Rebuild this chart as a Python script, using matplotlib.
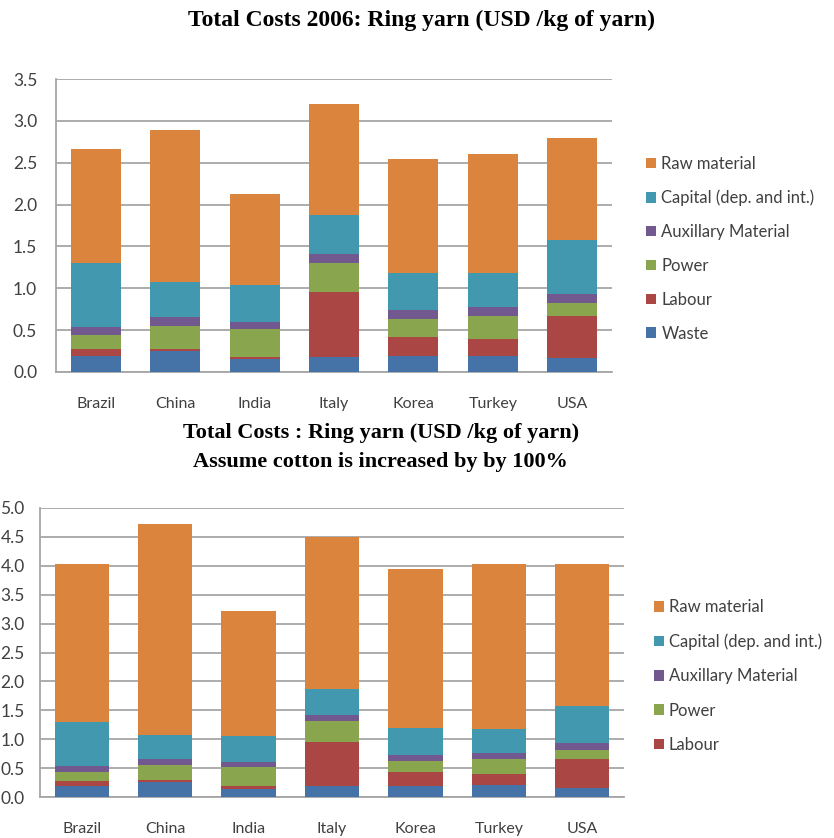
import matplotlib
matplotlib.use("Agg")
import matplotlib.pyplot as plt
import numpy as np

COUNTRIES = ["Brazil", "China", "India", "Italy", "Korea", "Turkey", "USA"]
COMPONENTS = ["Waste", "Labour", "Power", "Auxillary Material",
              "Capital (dep. and int.)", "Raw material"]
COLORS = ["#4572A7", "#AA4643", "#89A54E", "#71588F", "#4198AF", "#DB843D"]

# 2006 cost breakdown, USD per kg of yarn
waste_2006 = [0.19, 0.25, 0.15, 0.175, 0.19, 0.19, 0.17]
labour_2006 = [0.09, 0.03, 0.025, 0.785, 0.23, 0.20, 0.50]
power_2006 = [0.16, 0.27, 0.335, 0.34, 0.21, 0.28, 0.15]
aux_2006 = [0.10, 0.11, 0.09, 0.11, 0.11, 0.11, 0.11]
capital_2006 = [0.76, 0.42, 0.44, 0.46, 0.44, 0.40, 0.65]
raw_2006 = [1.36, 1.81, 1.09, 1.33, 1.37, 1.43, 1.22]

# same breakdown with cotton price doubled
waste_cot = [0.19, 0.26, 0.145, 0.19, 0.19, 0.20, 0.16]
labour_cot = [0.08, 0.03, 0.045, 0.76, 0.24, 0.19, 0.50]
power_cot = [0.16, 0.27, 0.33, 0.36, 0.19, 0.27, 0.16]
aux_cot = [0.10, 0.10, 0.09, 0.11, 0.11, 0.10, 0.11]
capital_cot = [0.76, 0.41, 0.44, 0.45, 0.46, 0.42, 0.65]
raw_cot = [2.74, 3.65, 2.16, 2.63, 2.75, 2.85, 2.45]

YTICKS_2006 = [0.0, 0.5, 1.0, 1.5, 2.0, 2.5, 3.0, 3.5]
YTICKS_COT = [0.0, 0.5, 1.0, 1.5, 2.0, 2.5, 3.0, 3.5, 4.0, 4.5, 5.0]

LABEL_FONT = "Lato"
GRID = "#a6a6a6"


def stacked(ax, series, yticks, bar_w, legend_names):
    x = np.arange(len(COUNTRIES))
    bottom = np.zeros(len(COUNTRIES))
    handles = []
    for name, vals, col in zip(COMPONENTS, series, COLORS):
        b = ax.bar(x, vals, bar_w, bottom=bottom, color=col, zorder=3, linewidth=0)
        bottom += np.array(vals)
        if name in legend_names:
            handles.append((b, name))
    ax.set_xlim(-0.5, len(COUNTRIES) - 0.5)
    ax.set_ylim(yticks[0], yticks[-1])
    ax.set_yticks(yticks)
    ax.set_yticklabels([f"{t:.1f}" for t in yticks], fontsize=12.5,
                       family=LABEL_FONT, color="#404040")
    ax.set_xticks(x)
    ax.set_xticklabels(COUNTRIES, fontsize=11.5, family=LABEL_FONT, color="#404040")
    ax.tick_params(axis="both", length=0)
    ax.tick_params(axis="x", pad=18)
    ax.grid(axis="y", color=GRID, linewidth=1.3, zorder=0)
    for side in ("top", "right"):
        ax.spines[side].set_visible(False)
    for side in ("left", "bottom"):
        ax.spines[side].set_color(GRID)
        ax.spines[side].set_linewidth(1.3)
    return handles[::-1]


def add_legend(handles, anchor, spacing):
    return fig.legend([h for h, _ in handles], [n for _, n in handles], loc="upper left",
                      bbox_to_anchor=anchor, bbox_transform=fig.transFigure,
                      frameon=False, prop={"family": LABEL_FONT, "size": 12},
                      handlelength=0.6, handleheight=0.6, handletextpad=0.3,
                      labelspacing=spacing, labelcolor="#404040")


fig = plt.figure(figsize=(8.34, 8.38), dpi=100)

ax1 = fig.add_axes([0.0671, 0.5561, 0.6667, 0.3496])
h1 = stacked(ax1, [waste_2006, labour_2006, power_2006, aux_2006, capital_2006, raw_2006],
             YTICKS_2006, 0.63, COMPONENTS)
ax1.tick_params(axis="y", pad=13.5)
add_legend(h1, (0.757, 0.832), 1.07)

ax2 = fig.add_axes([0.048, 0.0489, 0.7002, 0.3449])
h2 = stacked(ax2, [waste_cot, labour_cot, power_cot, aux_cot, capital_cot, raw_cot],
             YTICKS_COT, 0.65, COMPONENTS[1:])
ax2.tick_params(axis="y", pad=11)
add_legend(h2, (0.766, 0.303), 1.1)

fig.text(422 / 834, 1 - 20 / 838, "Total Costs 2006: Ring yarn (USD /kg of yarn)",
         ha="center", va="center", family="Liberation Serif", weight="bold", fontsize=17)
fig.text(381 / 834, 1 - 433 / 838, "Total Costs : Ring yarn (USD /kg of yarn)",
         ha="center", va="center", family="Liberation Serif", weight="bold", fontsize=16)
fig.text(380 / 834, 1 - 462 / 838, "Assume cotton is increased by by 100%",
         ha="center", va="center", family="Liberation Serif", weight="bold", fontsize=16)

fig.savefig("out.png", dpi=100)
